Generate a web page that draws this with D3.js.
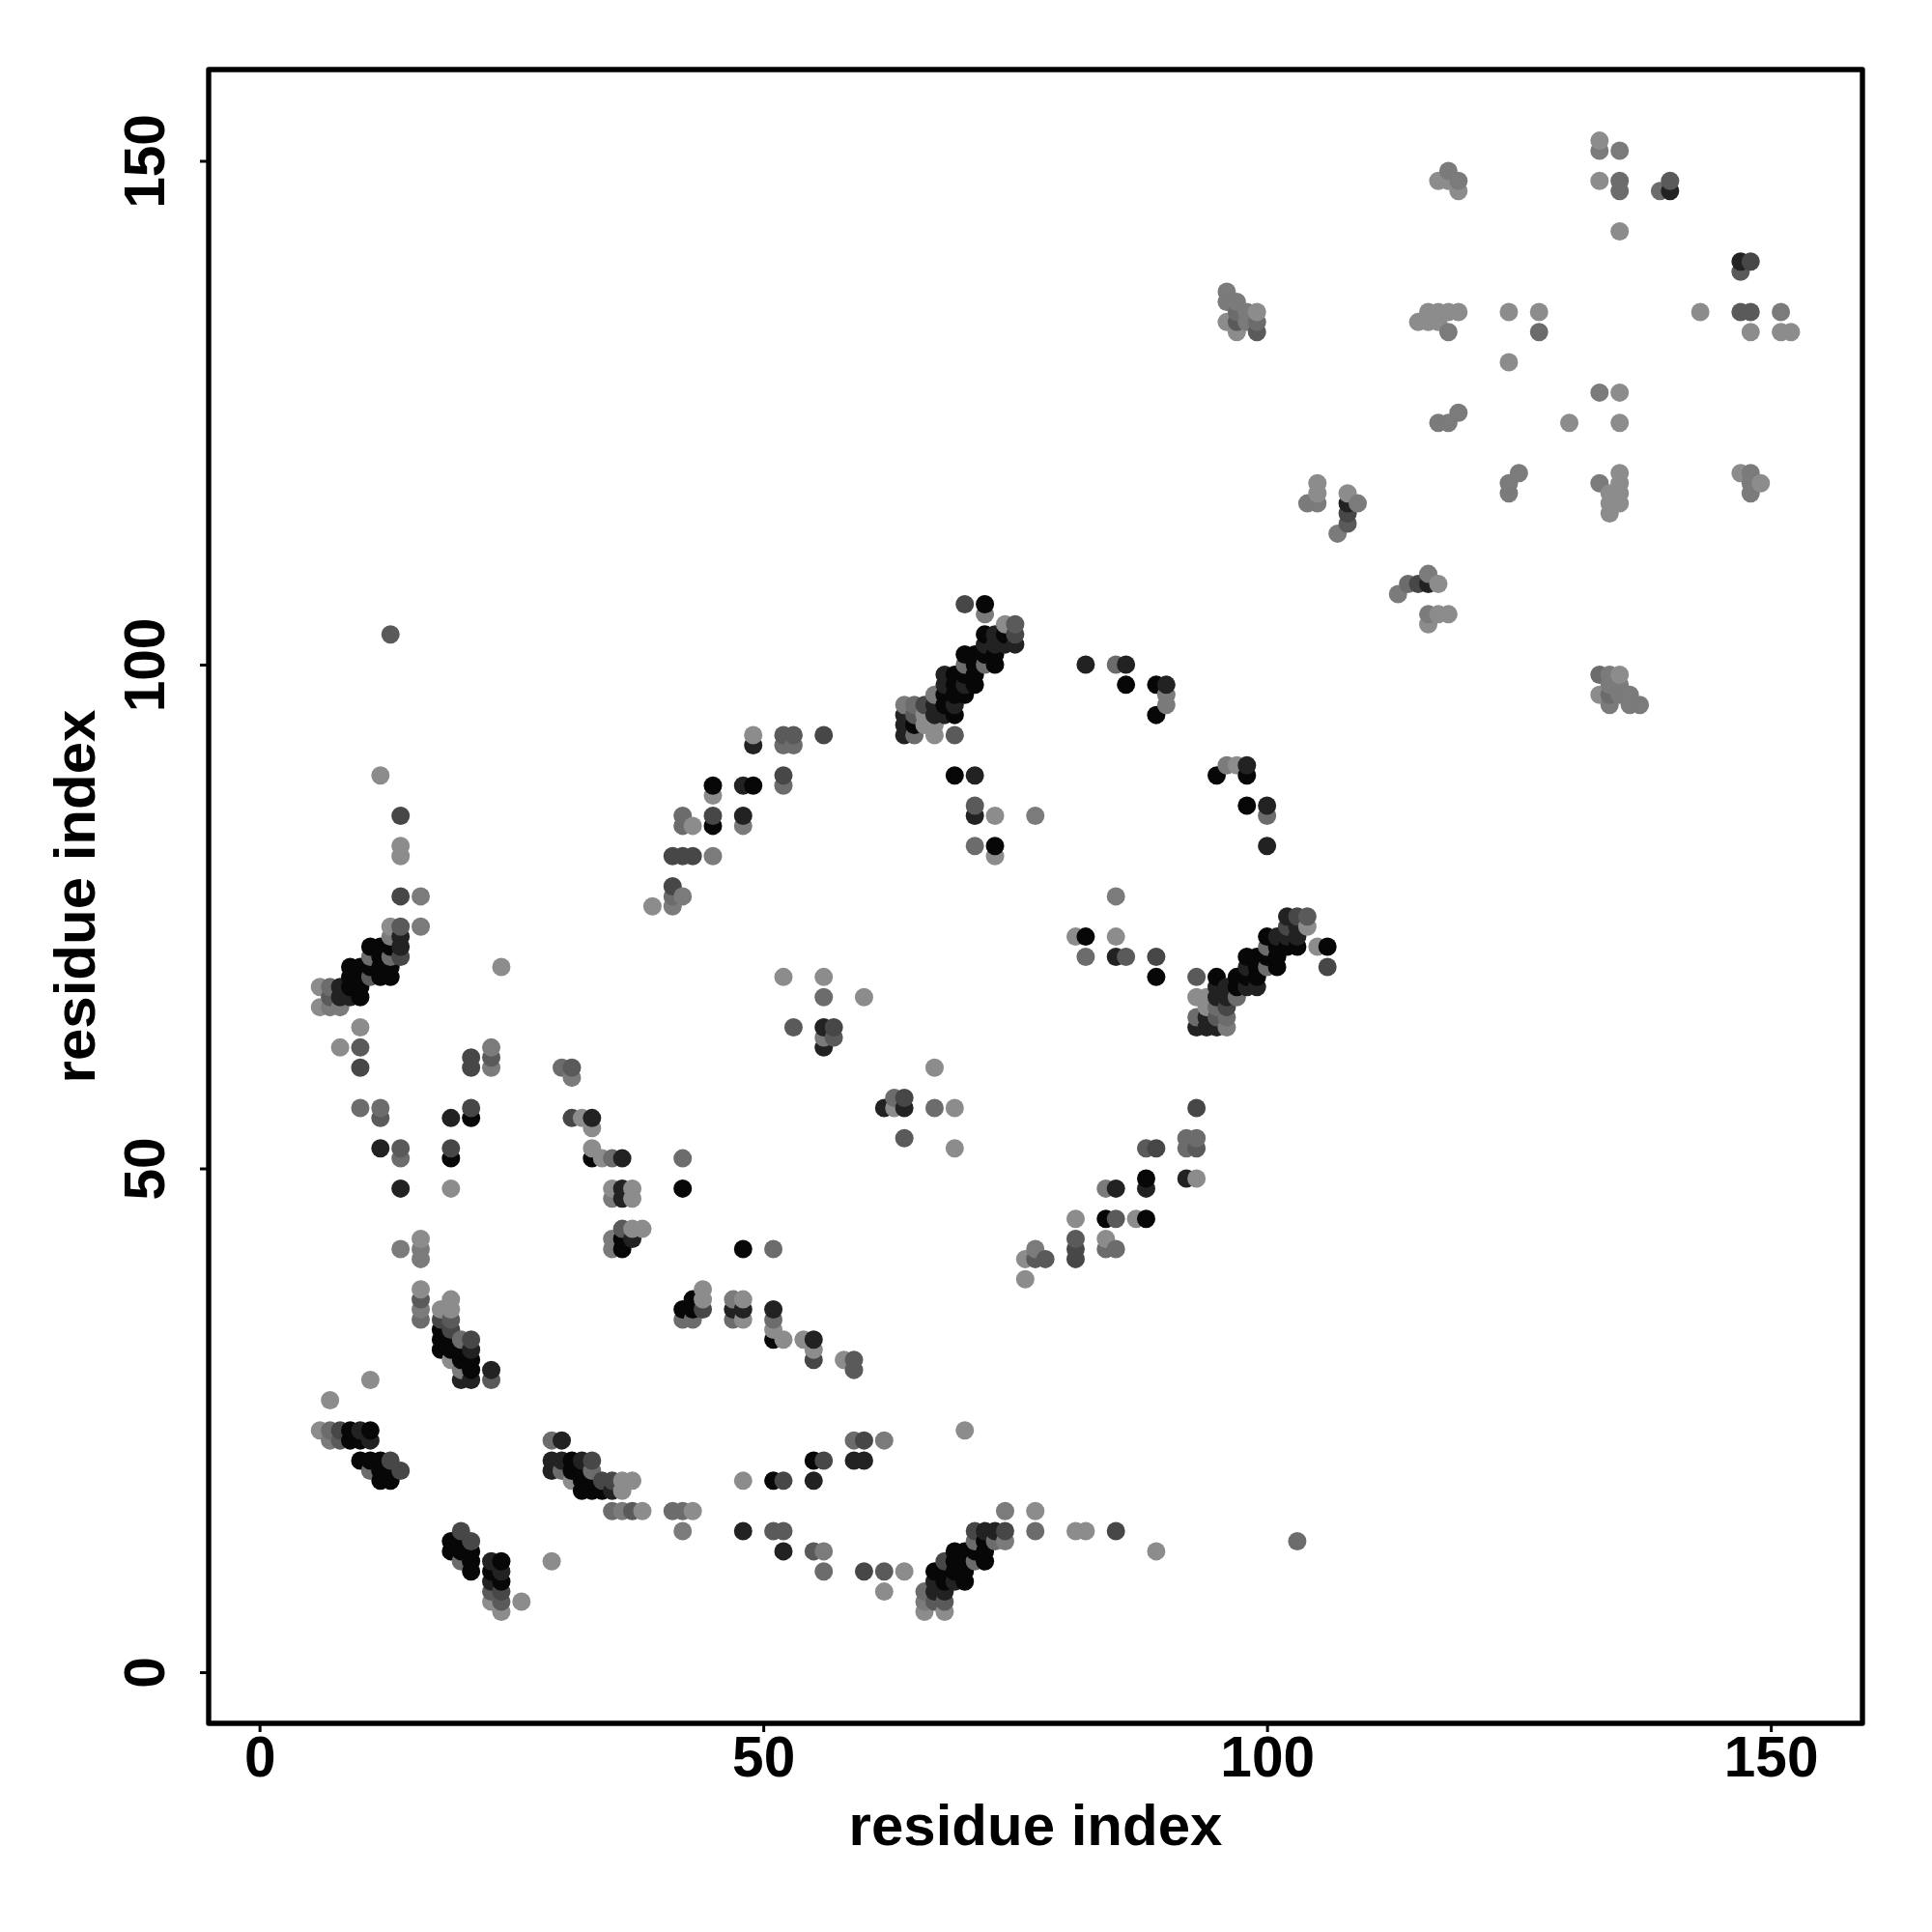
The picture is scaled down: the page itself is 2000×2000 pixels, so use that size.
<!DOCTYPE html>
<html><head><meta charset="utf-8">
<script src="https://cdn.jsdelivr.net/npm/d3@7/dist/d3.min.js"></script>
<style>html,body{margin:0;background:#fff}svg{display:block}text{font-family:"Liberation Sans",Arial,sans-serif;font-weight:700;fill:#000}</style>
</head><body><div id="chart"></div>
<script>
// each contact: [residue x, residue y, strength level 1 (weak) .. 7 (strong)]
const xTicks = [0, 50, 100, 150];
const yTicks = [0, 50, 100, 150];
const axisTitle = "residue index";
const levelGrays = ["#8c8c8c","#7b7b7b","#6c6c6c","#5a5a5a","#474747","#222222","#070707"];

const contactsLowLeft = [[6,24,1],[7,24,3],[8,24,5],[9,24,7],[10,24,6],[11,24,7],[7,27,1],[11,29,1],[7,23,2],[8,23,4],[9,23,7],[10,23,7],[11,23,6],[10,21,7],[11,21,7],[12,21,7],[13,21,5],[11,20,3],[12,20,7],[13,20,7],[14,20,5],[12,19,7],[13,19,7],[20,14,5],[19,13,7],[20,13,7],[21,13,5],[19,12,7],[20,12,7],[21,12,7],[20,11,3],[21,11,7],[21,10,7],[23,11,6],[24,11,7],[23,10,7],[24,10,6],[23,9,6],[24,9,7],[23,8,4],[24,8,5],[23,7,1],[24,7,4],[24,6,1],[26,7,1],[29,11,1]];
const contactsHelixB = [[16,38,1],[16,37,4],[16,36,2],[16,35,3],[19,37,1],[18,36,1],[19,36,1],[18,35,5],[19,35,4],[19,34,5],[18,34,7],[18,33,7],[18,32,7],[19,33,7],[19,32,7],[20,33,3],[21,33,5],[20,32,7],[21,32,6],[20,31,7],[21,31,7],[19,31,1],[20,30,2],[21,30,7],[20,29,6],[21,29,6],[23,30,6],[23,29,4],[16,43,1],[16,42,2],[16,41,2],[14,42,2]];
const contactsStrandC = [[29,23,3],[30,23,6],[29,21,6],[30,21,6],[31,21,7],[32,21,6],[33,21,5],[29,20,6],[30,20,3],[31,20,7],[32,20,7],[33,20,3],[31,19,1],[32,19,7],[33,19,7],[34,19,5],[35,19,5],[36,19,1],[37,19,1],[32,18,7],[33,18,7],[34,18,7],[35,18,6],[36,18,1],[35,16,3],[36,16,2],[37,16,4],[38,16,1],[41,16,3],[42,16,3],[43,16,1],[42,14,2],[48,14,6],[48,19,1]];
const contactsMidLow = [[44,38,1],[44,37,1],[44,36,5],[43,37,7],[42,36,7],[43,36,7],[42,35,3],[43,35,3],[47,37,2],[48,37,1],[47,36,6],[48,36,6],[47,35,3],[48,35,1],[51,36,6],[51,35,3],[51,34,1],[51,33,7],[52,33,1],[54,33,1],[55,33,6],[55,32,1],[55,31,5],[58,31,1],[59,31,4],[59,30,4],[59,23,3],[60,23,5],[62,23,2],[70,24,1],[55,21,7],[56,21,5],[59,21,6],[60,21,6],[51,19,7],[52,19,5],[55,19,6],[51,14,4],[52,14,4],[52,12,6],[55,12,4],[56,12,2],[56,10,3],[60,10,5],[62,10,4],[64,10,1],[62,8,1],[74,16,2],[77,16,1],[77,14,3],[81,14,1],[82,14,1],[85,14,5],[89,12,1],[103,13,3]];
const contactsRidgeLow = [[71,14,5],[72,14,6],[73,14,6],[74,14,5],[71,13,3],[72,13,7],[73,13,3],[74,13,2],[69,12,7],[70,12,7],[71,12,7],[72,12,7],[68,11,5],[69,11,7],[70,11,7],[71,11,3],[72,11,7],[67,10,7],[68,10,7],[69,10,7],[70,10,7],[67,9,6],[68,9,7],[69,9,6],[70,9,7],[66,8,3],[67,8,6],[68,8,6],[66,7,2],[67,7,4],[68,7,4],[66,6,1],[68,6,1]];
const contactsUpperLeft = [[6,66,1],[7,66,2],[8,66,2],[7,67,4],[8,67,6],[9,67,6],[10,67,7],[6,68,1],[7,68,3],[8,68,6],[9,68,7],[10,68,7],[9,69,7],[10,69,7],[11,69,4],[12,69,7],[13,69,7],[9,70,7],[10,70,7],[11,70,7],[12,70,7],[13,70,7],[11,71,3],[12,71,7],[13,71,3],[14,71,5],[11,72,7],[12,72,7],[13,72,7],[14,72,6],[13,73,2],[14,73,6],[13,74,1],[14,74,4],[16,74,2],[14,77,5],[16,77,2],[14,81,1],[14,82,1],[14,85,5],[12,89,1],[13,103,4],[24,70,1]];
const contactsMidLeft = [[14,48,6],[19,48,1],[12,52,6],[14,52,4],[14,51,3],[19,52,5],[19,51,7],[10,56,3],[12,56,3],[12,55,4],[19,55,6],[21,56,5],[21,55,7],[23,62,2],[21,61,5],[21,60,5],[23,61,4],[23,60,2],[10,60,5],[10,62,4],[8,62,1],[10,64,1]];
const contactsMidDiag = [[30,60,3],[31,60,4],[31,59,2],[31,55,5],[32,55,1],[33,55,6],[33,54,1],[33,52,1],[33,51,7],[34,51,1],[35,51,3],[36,51,6],[35,48,1],[36,48,6],[37,48,1],[35,47,2],[36,47,6],[37,47,1],[36,44,4],[37,44,1],[38,44,1],[35,43,2],[36,43,7],[37,43,6],[35,42,2],[36,42,7],[42,51,3],[42,48,7],[48,42,7],[51,42,3]];
const contactsCenter = [[52,69,1],[56,69,1],[56,67,3],[60,67,1],[53,64,4],[56,64,6],[57,64,5],[56,63,2],[57,63,4],[56,62,6],[67,60,1],[63,57,3],[64,57,5],[62,56,6],[63,56,1],[64,56,6],[67,56,3],[69,56,1],[64,53,4],[69,52,1]];
const contactsLowerDiag = [[76,41,1],[77,42,2],[77,41,4],[78,41,4],[76,39,1],[81,45,1],[81,43,4],[81,42,5],[81,41,5],[84,43,1],[84,42,3],[85,42,3],[84,45,7],[85,45,4],[87,45,1],[88,45,7],[84,48,2],[85,48,6],[88,49,7],[88,48,6],[88,52,4],[89,52,5],[92,49,6],[93,49,1],[92,53,3],[93,53,3],[92,52,3],[93,52,4],[93,56,5]];
const contactsRidgeRight = [[81,73,1],[82,73,7],[85,73,1],[85,77,2],[82,71,3],[85,71,6],[86,71,4],[89,71,5],[89,69,7],[102,75,6],[103,75,5],[104,75,4],[102,74,5],[103,74,6],[104,74,1],[100,73,7],[101,73,6],[102,73,6],[103,73,6],[100,72,3],[101,72,7],[102,72,7],[103,72,7],[105,72,1],[106,72,7],[98,71,7],[99,71,7],[100,71,7],[101,71,7],[98,70,6],[99,70,7],[100,70,3],[101,70,7],[106,70,5],[93,69,4],[95,69,7],[97,69,7],[98,69,7],[99,69,7],[95,68,6],[96,68,6],[97,68,7],[98,68,6],[99,68,6],[93,67,1],[94,67,1],[95,67,6],[96,67,6],[97,67,3],[94,66,1],[95,66,3],[96,66,5],[93,65,3],[94,65,6],[95,65,4],[96,65,3],[93,64,6],[94,64,6],[95,64,6],[96,64,2]];
const contactsArc = [[82,100,6],[85,100,3],[86,100,6],[86,98,7],[89,98,7],[90,98,6],[90,97,2],[90,96,2],[89,95,7],[96,90,2],[97,90,1],[98,90,6],[95,89,7],[98,89,7],[98,86,7],[100,86,6],[100,85,3],[100,82,6]];
const contactsUpperMid = [[39,76,1],[41,76,2],[41,78,5],[41,77,3],[42,77,2],[41,81,5],[42,81,5],[43,81,5],[45,81,2],[42,84,3],[43,84,1],[45,84,7],[48,84,2],[42,85,3],[45,85,5],[48,85,6],[45,87,1],[45,88,7],[48,88,6],[49,88,7],[52,88,3],[52,89,5],[49,93,1],[52,93,4],[53,93,4],[56,93,5],[49,92,6],[52,92,3],[53,92,3],[69,89,7],[71,89,6],[71,86,4],[71,85,6],[73,85,1],[77,85,2],[71,82,3],[73,82,7],[73,81,1]];
const contactsRidgeTop = [[64,93,6],[65,93,3],[67,93,1],[69,93,4],[64,94,6],[65,94,7],[66,94,1],[67,94,1],[64,95,6],[65,95,4],[66,95,1],[67,95,6],[68,95,6],[69,95,7],[64,96,2],[65,96,3],[66,96,5],[67,96,6],[68,96,7],[69,96,6],[67,97,2],[68,97,7],[69,97,7],[70,97,7],[68,98,6],[69,98,7],[70,98,6],[71,98,7],[68,99,6],[69,99,7],[70,99,7],[71,99,7],[70,100,3],[71,100,7],[72,100,3],[73,100,7],[70,101,7],[71,101,7],[72,101,7],[73,101,7],[72,102,6],[73,102,6],[74,102,6],[75,102,6],[72,103,7],[73,103,6],[74,103,7],[75,103,5],[74,104,1],[75,104,4],[72,105,2],[70,106,5],[72,106,7]];
const contactsUpperRightA = [[96,137,2],[96,136,2],[97,136,2],[97,135,3],[98,135,2],[99,135,1],[96,134,1],[97,134,4],[98,134,2],[99,134,3],[97,133,1],[99,133,4],[115,134,1],[116,135,1],[117,135,1],[118,135,1],[119,135,1],[116,134,1],[117,134,1],[118,133,2],[124,135,1],[127,135,1],[127,133,3],[124,130,1],[133,127,2],[135,127,1],[117,124,2],[118,124,2],[119,125,2],[130,124,1],[135,124,1]];
const contactsUpperRightB = [[133,152,1],[133,151,2],[135,151,2],[133,148,1],[135,148,3],[135,147,3],[139,147,3],[140,148,4],[140,147,6],[135,143,1],[117,148,1],[118,149,2],[118,148,1],[119,148,2],[119,147,1],[147,140,6],[148,140,5],[147,139,4],[143,135,1],[147,135,4],[148,135,4],[151,135,2],[148,133,1],[151,133,1],[152,133,1]];
const contactsUpperRightC = [[105,118,1],[105,117,1],[104,116,2],[105,116,2],[108,117,1],[109,116,2],[108,116,6],[108,115,5],[108,114,4],[107,113,2],[125,119,2],[124,118,2],[124,117,2],[133,118,2],[135,119,1],[135,118,1],[135,117,1],[135,116,1],[134,117,1],[134,116,1],[134,115,1],[147,119,1],[148,119,2],[149,118,1],[148,118,2],[148,117,2],[116,109,2],[114,108,3],[115,108,5],[116,108,6],[117,108,1],[113,107,2],[116,105,2],[117,105,1],[118,105,1],[116,104,1],[133,99,3],[134,99,2],[135,99,1],[134,98,2],[135,98,2],[133,97,1],[134,97,3],[135,97,2],[136,97,2],[134,96,2],[136,96,2],[137,96,2]];

const allContacts = [].concat(contactsLowLeft, contactsHelixB, contactsStrandC, contactsMidLow, contactsRidgeLow,
  contactsUpperLeft, contactsMidLeft, contactsMidDiag, contactsCenter, contactsLowerDiag, contactsRidgeRight,
  contactsArc, contactsUpperMid, contactsRidgeTop, contactsUpperRightA, contactsUpperRightB, contactsUpperRightC)
  .sort((a,b) => d3.ascending(a[0],b[0]) || d3.ascending(a[1],b[1]));

const svg = d3.select("#chart").append("svg").attr("width",2000).attr("height",2000);
const frameL=216, frameR=1928, frameT=72, frameB=1784;
const x = d3.scaleLinear().domain([-5,159]).range([216.5,1927]);
const y = d3.scaleLinear().domain([-5,159]).range([1783.2,72.6]);
const gray = d3.scaleOrdinal().domain([1,2,3,4,5,6,7]).range(levelGrays);

svg.append("g").selectAll("circle").data(allContacts).join("circle")
  .attr("cx",d=>x(d[0])).attr("cy",d=>y(d[1])).attr("r",9.5).attr("fill",d=>gray(d[2]));

svg.append("rect").attr("x",frameL).attr("y",frameT).attr("width",frameR-frameL).attr("height",frameB-frameT)
  .attr("fill","none").attr("stroke","#000").attr("stroke-width",5.4).attr("stroke-linejoin","round");

const gx = svg.append("g").attr("transform",`translate(0,${frameB})`)
  .call(d3.axisBottom(x).tickValues(xTicks).tickSize(9).tickPadding(15).tickFormat(d3.format("d")));
const gy = svg.append("g").attr("transform",`translate(${frameL},0)`)
  .call(d3.axisLeft(y).tickValues(yTicks).tickSize(9).tickPadding(0).tickFormat(d3.format("d")));
gx.select(".domain").remove(); gy.select(".domain").remove();
gx.selectAll("line").attr("stroke","#000").attr("stroke-width",3);
gy.selectAll("line").attr("stroke","#000").attr("stroke-width",3);
gx.selectAll("text").attr("font-size",58.5).attr("dy",null).attr("y",55).attr("text-anchor","middle");
gy.selectAll("text").attr("font-size",58.5).attr("dy",null).attr("x",null).attr("y",null)
  .attr("text-anchor","middle").attr("transform","translate(-46,0) rotate(-90)");
svg.append("text").attr("x",1072).attr("y",1910).attr("text-anchor","middle").attr("font-size",60).text(axisTitle);
svg.append("text").attr("transform","translate(98,928) rotate(-90)").attr("text-anchor","middle").attr("font-size",60).text(axisTitle);
</script></body></html>
